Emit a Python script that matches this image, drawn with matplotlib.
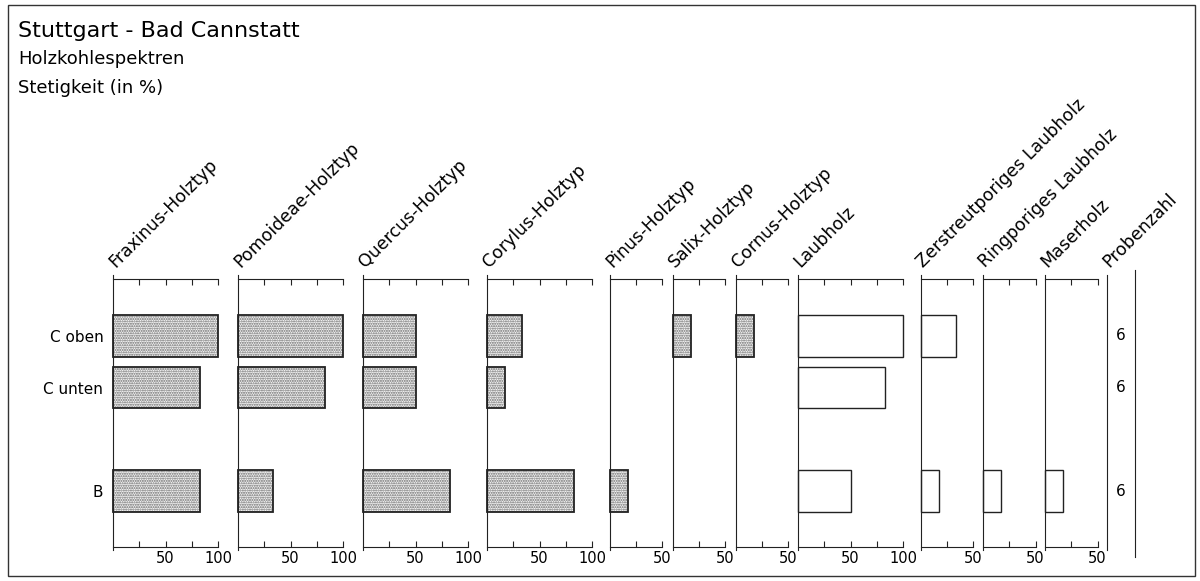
import matplotlib.pyplot as plt
from matplotlib.patches import Rectangle
from matplotlib.ticker import FixedLocator, FixedFormatter
import matplotlib.transforms as mtransforms

plt.rcParams['font.family'] = ['DejaVu Sans']
plt.rcParams['hatch.linewidth'] = 1.0

samples = ['C oben', 'C unten', 'B']
taxa = ['Fraxinus-Holztyp', 'Pomoideae-Holztyp', 'Quercus-Holztyp', 'Corylus-Holztyp',
        'Pinus-Holztyp', 'Salix-Holztyp', 'Cornus-Holztyp', 'Laubholz',
        'Zerstreutporiges Laubholz', 'Ringporiges Laubholz', 'Maserholz']
# Stetigkeit in % per sample (C oben, C unten, B)
fraxinus = [100, 83.3, 83.3]
pomoideae = [100, 83.3, 33.3]
quercus = [50, 50, 83.3]
corylus = [33.3, 16.7, 83.3]
pinus = [0, 0, 16.7]
salix = [16.7, 0, 0]
cornus = [16.7, 0, 0]
laubholz = [100, 83.3, 50]
zerstreut = [33.3, 0, 16.7]
ringporig = [0, 0, 16.7]
maserholz = [0, 0, 16.7]
probenzahl = [6, 6, 6]

series = [fraxinus, pomoideae, quercus, corylus, pinus, salix, cornus,
          laubholz, zerstreut, ringporig, maserholz]
scale_max = [100, 100, 100, 100, 50, 50, 50, 100, 50, 50, 50]
hatched = [True] * 7 + [False] * 4

# layout (pixels)
W, H = 1200, 581
lefts = [113, 238, 363, 487, 610, 673, 736, 798, 921, 983, 1045]
px_per_pct = 1.05
top_px, bot_px = 279, 547
row_pos = [1, 2, 4]
ylims = (5.08, -0.1)
line_c = '#222222'
lw = 0.8

fig = plt.figure(figsize=(12, 5.81), dpi=100)

def add_panel(left, width):
    return fig.add_axes([left / W, 1 - bot_px / H, width / W, (bot_px - top_px) / H])

def col_label(ax, name):
    off = mtransforms.offset_copy(ax.transAxes, fig=fig, x=1.5, y=8, units='points')
    ax.text(0, 1, name, rotation=45, rotation_mode='anchor', ha='left', va='baseline',
            fontsize=12.5, transform=off)

for i, (name, vals) in enumerate(zip(taxa, series)):
    smax = scale_max[i]
    ax = add_panel(lefts[i], smax * px_per_pct)
    ax.set_xlim(0, smax)
    ax.set_ylim(*ylims)
    ys = [y for y, v in zip(row_pos, vals) if v > 0]
    vs = [v for v in vals if v > 0]
    if hatched[i]:
        ax.barh(ys, vs, height=0.8, left=0, color='#f6f6f6', edgecolor='#666666',
                hatch='.......', linewidth=0)
        ax.barh(ys, vs, height=0.8, left=0, fill=False, edgecolor=line_c, linewidth=1.3,
                clip_on=False)
    else:
        ax.barh(ys, vs, height=0.8, left=0, fill=False, edgecolor=line_c, linewidth=1.0,
                clip_on=False)
    for s in ['left', 'right']:
        ax.spines[s].set_visible(False)
    for s in ['top', 'bottom']:
        ax.spines[s].set_color(line_c)
        ax.spines[s].set_linewidth(lw)
    ax.plot([0, 0], [ylims[0] + 0.06, ylims[1] - 0.08], color=line_c, lw=lw, clip_on=False)
    ticks = [25, 50, 75, 100] if smax == 100 else [25, 50]
    labels = ['' if t not in (50, 100) else str(t) for t in ticks]
    ax.xaxis.set_major_locator(FixedLocator(ticks))
    ax.xaxis.set_major_formatter(FixedFormatter(labels))
    ax.tick_params(axis='x', which='both', top=True, bottom=True, direction='in',
                   length=4, width=lw, color=line_c, labelsize=10.5, pad=3)
    if i == 0:
        ax.set_yticks(row_pos, samples)
        ax.tick_params(axis='y', length=0, pad=7, labelsize=11)
    else:
        ax.set_yticks([])
    col_label(ax, name)

# Probenzahl column
axp = add_panel(1107, 28)
axp.set_xlim(0, 1)
axp.set_ylim(*ylims)
axp.axis('off')
axp.plot([0, 0], [ylims[0] + 0.06, ylims[1] - 0.08], color=line_c, lw=lw, clip_on=False)
axp.plot([1, 1], [ylims[0] + 0.2, ylims[1] - 0.17], color=line_c, lw=lw, clip_on=False)
for y, n in zip(row_pos, probenzahl):
    axp.text(0.5, y, str(n), ha='center', va='center', fontsize=11)
col_label(axp, 'Probenzahl')

# titles
fig.text(18 / W, 1 - 37 / H, 'Stuttgart - Bad Cannstatt', fontsize=16, va='baseline')
fig.text(18 / W, 1 - 64 / H, 'Holzkohlespektren', fontsize=13, va='baseline')
fig.text(18 / W, 1 - 93 / H, 'Stetigkeit (in %)', fontsize=13, va='baseline')

# outer frame
fig.add_artist(Rectangle((8 / W, 1 - 576 / H), (1195 - 8) / W, (576 - 5) / H,
                         transform=fig.transFigure, fill=False, edgecolor='#333333', lw=1))

plt.savefig('out.png', dpi=100)
